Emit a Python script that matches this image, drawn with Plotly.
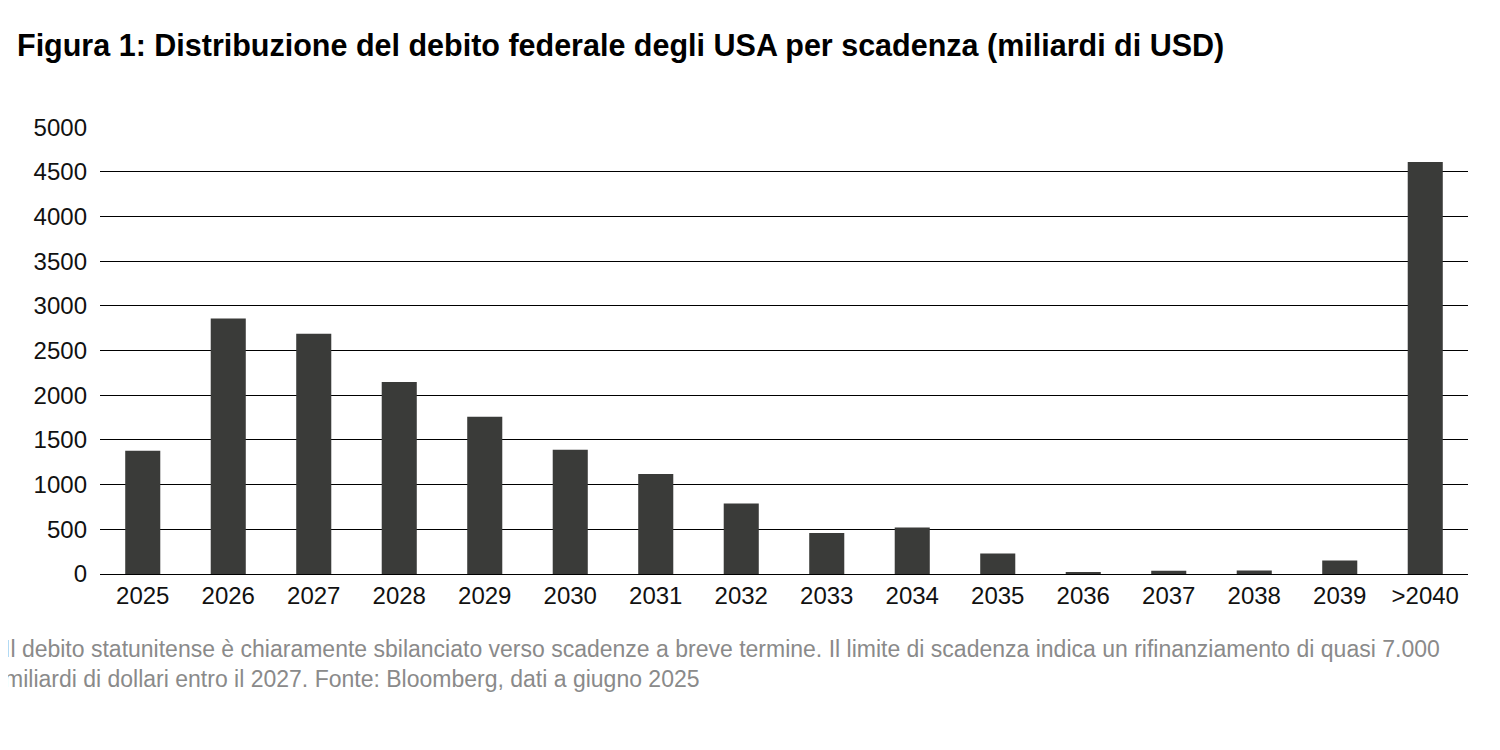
import plotly.graph_objects as go

years = ["2025","2026","2027","2028","2029","2030","2031","2032","2033","2034","2035","2036","2037","2038","2039",">2040"]
values = [1380, 2860, 2690, 2150, 1760, 1390, 1120, 790, 460, 520, 230, 20, 35, 40, 150, 4610]
yticks = [0, 500, 1000, 1500, 2000, 2500, 3000, 3500, 4000, 4500, 5000]

fig = go.Figure(go.Bar(x=years, y=values, marker_color="#3a3b39", marker_line_width=0))
fig.update_layout(
    width=1500, height=750, plot_bgcolor="white", paper_bgcolor="white",
    margin=dict(l=92, r=40, t=119, b=184),
    font=dict(family="Liberation Sans, Arial, sans-serif", size=24, color="#111"),
    bargap=0.59, showlegend=False,
    title=dict(text="<b>Figura 1: Distribuzione del debito federale degli USA per scadenza (miliardi di USD)</b>",
               x=0.006, xanchor="left", y=0.95, yanchor="middle", font=dict(size=30.5, color="#000")),
)
fig.update_yaxes(range=[0, 5003], tickvals=yticks, showgrid=True, gridcolor="#000", gridwidth=1.3,
                 zeroline=False, ticks="", ticklabelstandoff=12, fixedrange=True)
fig.update_xaxes(showline=True, linecolor="#000", linewidth=1.3, ticks="", tickfont=dict(size=24))
fig.add_annotation(
    text="Il debito statunitense è chiaramente sbilanciato verso scadenze a breve termine. Il limite di scadenza indica un rifinanziamento di quasi 7.000<br>miliardi di dollari entro il 2027. Fonte: Bloomberg, dati a giugno 2025",
    xref="paper", yref="paper", x=-0.072, y=-0.135, xanchor="left", yanchor="top",
    align="left", showarrow=False, font=dict(size=23, color="#8a8a8a"))
fig.write_html("out.html")
